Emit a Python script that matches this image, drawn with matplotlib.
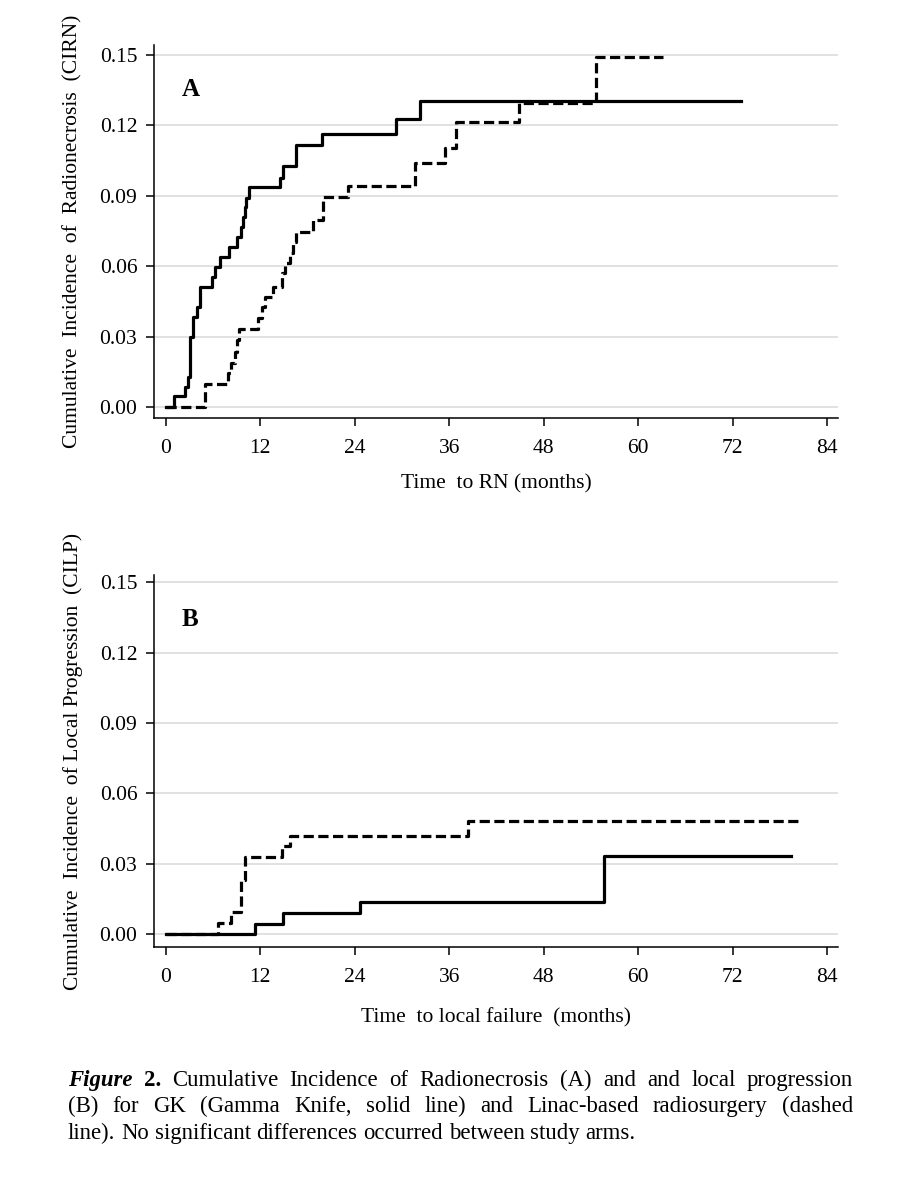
import matplotlib
matplotlib.use("Agg")
import matplotlib.pyplot as plt

plt.rcParams["font.family"] = ["Liberation Serif", "DejaVu Serif"]

# Panel A: cumulative incidence of radionecrosis (months, incidence)
rn_gk_t = [0, 1.1, 2.5, 2.85, 3.1, 3.5, 3.9, 4.4, 5.9, 6.2, 6.9, 8.05, 9.05,
           9.6, 9.8, 10.0, 10.25, 10.55, 14.5, 14.9, 16.5, 19.8, 29.3, 32.3, 73.1]
rn_gk_v = [0, 0.0047, 0.0087, 0.0129, 0.030, 0.0385, 0.0427, 0.051, 0.0553,
           0.0595, 0.0638, 0.068, 0.0723, 0.0765, 0.081, 0.085, 0.089, 0.0935,
           0.0974, 0.1027, 0.1116, 0.1163, 0.1227, 0.1305, 0.1305]
rn_linac_t = [0, 4.96, 7.92, 8.34, 8.77, 9.06, 9.32, 11.73, 12.16, 12.58, 13.64,
              14.7, 15.1, 15.76, 16.18, 16.6, 18.7, 20.0, 23.2, 31.6, 35.45,
              36.9, 44.85, 54.6, 63.2]
rn_linac_v = [0, 0.0097, 0.0144, 0.0189, 0.0236, 0.0285, 0.0331, 0.0378, 0.0427,
              0.047, 0.0513, 0.057, 0.0612, 0.0655, 0.0704, 0.0747, 0.0797,
              0.0896, 0.0943, 0.1041, 0.1102, 0.1216, 0.1294, 0.149, 0.149]

# Panel B: cumulative incidence of local progression
lp_gk_t = [0, 11.3, 14.9, 24.7, 55.65, 79.4]
lp_gk_v = [0, 0.0046, 0.0091, 0.0138, 0.0333, 0.0333]
lp_linac_t = [0, 6.65, 8.34, 9.6, 10.1, 14.7, 15.76, 38.4, 80.3]
lp_linac_v = [0, 0.0048, 0.0095, 0.0233, 0.033, 0.0375, 0.0418, 0.0482, 0.0482]

xticks = [0, 12, 24, 36, 48, 60, 72, 84]
yticks = [0.00, 0.03, 0.06, 0.09, 0.12, 0.15]

W, H = 903, 1200
fig = plt.figure(figsize=(W / 100, H / 100), dpi=100)


def px_axes(left, top, right, bottom):
    return fig.add_axes([left / W, 1 - bottom / H, (right - left) / W, (bottom - top) / H])


def style(ax, ylim, xlabel, ylabel, letter):
    ax.set_xlim(-1.5, 85.4)
    ax.set_ylim(*ylim)
    ax.set_xticks(xticks)
    ax.set_yticks(yticks)
    ax.set_yticklabels([f"{v:.2f}" for v in yticks])
    for s in ["top", "right"]:
        ax.spines[s].set_visible(False)
    for s in ["left", "bottom"]:
        ax.spines[s].set_linewidth(1.1)
    ax.tick_params(direction="out", length=6, width=1.1, labelsize=15.5, pad=6)
    ax.tick_params(axis="x", pad=9)
    ax.yaxis.grid(True, color="#d9d9d9", linewidth=1.1)
    ax.set_axisbelow(True)
    ax.set_xlabel(xlabel, fontsize=15.5, labelpad=12)
    ax.set_ylabel(ylabel, fontsize=15.5, labelpad=12)
    ax.text(0.041, 0.862, letter, transform=ax.transAxes, fontsize=18,
            fontweight="bold", ha="left", va="baseline")


axA = px_axes(154, 45, 838, 418)
axA.step(rn_gk_t, rn_gk_v, where="post", color="black", lw=2.3)
axA.step(rn_linac_t, rn_linac_v, where="post", color="black", lw=2.3, dashes=(3.2, 1.4))
style(axA, (-0.0047, 0.1542), "Time  to RN (months)",
      "Cumulative  Incidence  of  Radionecrosis  (CIRN)", "A")

axB = px_axes(154, 575, 838, 947)
axB.step(lp_gk_t, lp_gk_v, where="post", color="black", lw=2.3)
axB.step(lp_linac_t, lp_linac_v, where="post", color="black", lw=2.3, dashes=(3.2, 1.4))
style(axB, (-0.0054, 0.153), "Time  to local failure  (months)",
      "Cumulative  Incidence  of Local Progression  (CILP)", "B")
axB.xaxis.labelpad = 15

# caption, justified like the source document
cap_size = 16.4
lines = [
    ([("Figure", dict(fontweight="bold", fontstyle="italic")), ("2.", dict(fontweight="bold"))]
     + [(w, {}) for w in "Cumulative Incidence of Radionecrosis (A) and and local progression".split()], True),
    ([(w, {}) for w in "(B) for GK (Gamma Knife, solid line) and Linac-based radiosurgery (dashed".split()], True),
    ([(w, {}) for w in "line). No significant differences occurred between study arms.".split()], False),
]
baselines = [1086, 1112, 1139]
x0, x1 = 68, 853
renderer = fig.canvas.get_renderer()
sp = fig.text(0, 0, "a a", fontsize=cap_size)
sp2 = fig.text(0, 0, "aa", fontsize=cap_size)
space_w = sp.get_window_extent(renderer).width - sp2.get_window_extent(renderer).width
sp.remove()
sp2.remove()
for (words, justify), yb in zip(lines, baselines):
    arts = [fig.text(0, 1 - yb / H, w, fontsize=cap_size, va="baseline", **kw) for w, kw in words]
    widths = [a.get_window_extent(renderer).width for a in arts]
    gap = space_w
    if justify:
        gap = (x1 - x0 - sum(widths)) / (len(words) - 1)
    x = x0
    for a, w in zip(arts, widths):
        a.set_x(x / W)
        x += w + gap

fig.savefig("out.png", dpi=100)
